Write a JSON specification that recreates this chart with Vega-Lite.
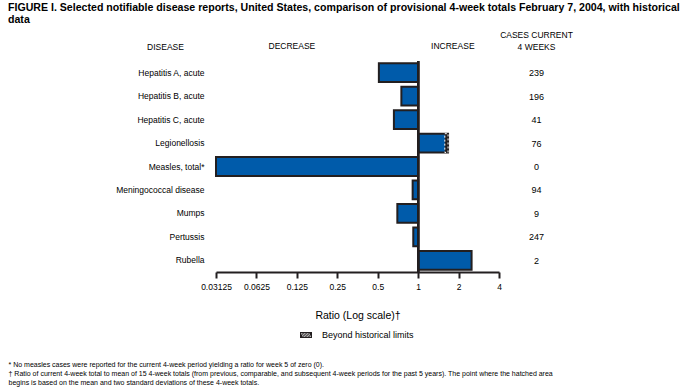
{
  "$schema": "https://vega.github.io/schema/vega-lite/v6.json",
  "autosize": {"type": "none"},
  "width": 283,
  "height": 211,
  "padding": {"left": 216, "top": 61, "right": 194, "bottom": 120},
  "background": "white",
  "config": {
    "font": "Liberation Sans",
    "view": {"stroke": null},
    "axis": {"labelColor": "#000", "titleColor": "#000", "titleFontWeight": "normal", "grid": false, "labelFont": "Liberation Sans", "titleFont": "Liberation Sans"},
    "legend": {"labelColor": "#000", "labelFont": "Liberation Sans"},
    "title": {"color": "#000", "font": "Liberation Sans"}
  },
  "title": {
    "text": ["FIGURE I. Selected notifiable disease reports, United States, comparison of provisional 4-week totals February 7, 2004, with historical", "data"],
    "anchor": "start",
    "frame": "group",
    "dx": -208,
    "fontSize": 10.6,
    "fontWeight": "bold",
    "lineHeight": 12,
    "offset": 4
  },
  "data": {
    "values": [
      {"disease": "Hepatitis A, acute", "ratio": 0.51, "limit": 0.51, "cases": "239"},
      {"disease": "Hepatitis B, acute", "ratio": 0.75, "limit": 0.75, "cases": "196"},
      {"disease": "Hepatitis C, acute", "ratio": 0.66, "limit": 0.66, "cases": "41"},
      {"disease": "Legionellosis", "ratio": 1.67, "limit": 1.58, "cases": "76"},
      {"disease": "Measles, total*", "ratio": 0.03125, "limit": 0.03125, "cases": "0"},
      {"disease": "Meningococcal disease", "ratio": 0.91, "limit": 0.91, "cases": "94"},
      {"disease": "Mumps", "ratio": 0.7, "limit": 0.7, "cases": "9"},
      {"disease": "Pertussis", "ratio": 0.92, "limit": 0.92, "cases": "247"},
      {"disease": "Rubella", "ratio": 2.5, "limit": 2.5, "cases": "2"}
    ]
  },
  "layer": [
    {
      "mark": {"type": "bar", "fill": "#005BAA", "stroke": "#231F20", "strokeWidth": 2},
      "encoding": {
        "x": {
          "field": "ratio", "type": "quantitative",
          "scale": {"type": "log", "domain": [0.03125, 4], "nice": false},
          "axis": {
            "orient": "bottom",
            "values": [0.03125, 0.0625, 0.125, 0.25, 0.5, 1, 2, 4],
            "format": "~g",
            "labelFlush": false,
            "domainColor": "#231F20", "domainWidth": 2,
            "tickColor": "#231F20", "tickWidth": 2, "tickSize": 6,
            "labelFontSize": 8.5, "labelPadding": 4,
            "title": "Ratio (Log scale)†",
            "titleFontSize": 10.5,
            "titlePadding": 20
          }
        },
        "x2": {"datum": 1},
        "y": {
          "field": "disease", "type": "nominal", "sort": null,
          "scale": {"paddingInner": 0.2, "paddingOuter": 0.1},
          "axis": {
            "orient": "left", "domain": false, "ticks": false,
            "labelPadding": 12, "labelFontSize": 8.5,
            "title": "DISEASE", "titleAngle": 0, "titleAlign": "center", "titleBaseline": "middle",
            "titleX": -51, "titleY": -15, "titleFontSize": 8.5
          }
        }
      }
    },
    {
      "mark": {"type": "bar", "stroke": "white", "strokeWidth": 1, "strokeDash": [2, 2]},
      "encoding": {
        "x": {"field": "limit", "type": "quantitative", "scale": {"type": "log", "domain": [0.03125, 4], "nice": false}, "axis": null},
        "x2": {"field": "ratio"},
        "y": {"field": "disease", "type": "nominal", "sort": null, "scale": {"paddingInner": 0.2, "paddingOuter": 0.1}, "axis": null},
        "opacity": {"condition": {"test": "datum.limit < datum.ratio", "value": 1}, "value": 0},
        "fill": {
          "datum": "Beyond historical limits", "type": "nominal",
          "scale": {"range": ["#231F20"]},
          "legend": {
            "orient": "none", "legendX": 84, "legendY": 268,
            "title": null, "padding": 0,
            "symbolType": "M-1,-0.5H1V0.5H-1Z M-0.85,-0.35L-0.5,0.35L-0.4,0.35L-0.75,-0.35Z M-0.6,-0.35L-0.25,0.35L-0.15,0.35L-0.5,-0.35Z M-0.35,-0.35L0,0.35L0.1,0.35L-0.25,-0.35Z M-0.1,-0.35L0.25,0.35L0.35,0.35L0,-0.35Z M0.15,-0.35L0.5,0.35L0.6,0.35L0.25,-0.35Z M0.4,-0.35L0.75,0.35L0.85,0.35L0.5,-0.35Z",
            "symbolSize": 144, "symbolStrokeWidth": 0, "symbolOpacity": 1,
            "labelFontSize": 9, "labelOffset": 10
          }
        }
      }
    },
    {
      "mark": {"type": "rule", "color": "#231F20", "strokeWidth": 2},
      "encoding": {
        "x": {
          "datum": 1, "type": "quantitative",
          "scale": {"type": "log", "domain": [0.03125, 4], "nice": false},
          "axis": {
            "orient": "top",
            "values": [0.1138, 1.797],
            "labelExpr": "datum.value < 1 ? 'DECREASE' : 'INCREASE'",
            "ticks": false, "domain": false, "labelFlush": false,
            "labelPadding": 11, "labelFontSize": 8.5,
            "title": ["* No measles cases were reported for the current 4-week period yielding a ratio for week 5 of zero (0).", "† Ratio of current 4-week total to mean of 15 4-week totals (from previous, comparable, and subsequent 4-week periods for the past 5 years). The point where the hatched area", "\u00a0\u00a0begins is based on the mean and two standard deviations of these 4-week totals."],
            "titleX": -208, "titleY": 299, "titleAlign": "left", "titleBaseline": "top", "titleAngle": 0,
            "titleFontSize": 7, "titleLineHeight": 9
          }
        }
      }
    },
    {
      "mark": {"type": "text", "text": ""},
      "encoding": {
        "y": {
          "field": "cases", "type": "nominal", "sort": null,
          "scale": {"type": "point", "padding": 0.5},
          "axis": {
            "orient": "right", "domain": false, "ticks": false,
            "labelAlign": "center", "labelPadding": 37, "labelFontSize": 9,
            "title": ["CASES CURRENT", "4 WEEKS"], "titleAngle": 0, "titleAlign": "center", "titleBaseline": "top",
            "titleX": 37, "titleY": -31, "titleFontSize": 8.5, "titleLineHeight": 12
          }
        }
      }
    }
  ],
  "resolve": {"scale": {"y": "independent"}, "axis": {"x": "independent", "y": "independent"}}
}
